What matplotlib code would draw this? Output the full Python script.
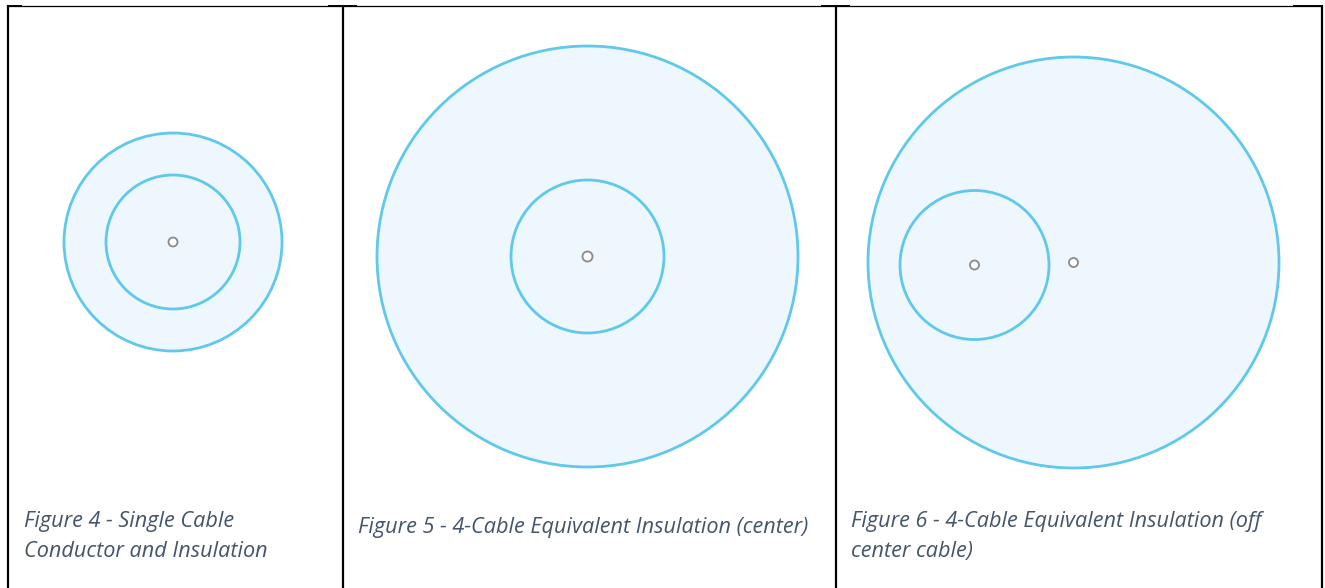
import matplotlib
matplotlib.use("Agg")
import matplotlib.pyplot as plt
from matplotlib.patches import Circle

W, H = 1325, 588

# Circles: (cx, cy, r) in pixel space of the figure
outer_circles = [(173, 242, 109), (587.5, 256.5, 210.5), (1073.5, 262.5, 205.5)]
inner_circles = [(173, 242, 67), (587.5, 256.5, 76.5), (974.5, 265, 74.5)]
dots = [(173, 242, 4.5), (587.5, 256.5, 5), (974.5, 265, 4.5), (1073.5, 262.5, 4.5)]

captions = [
    "Figure 4 - Single Cable\nConductor and Insulation",
    "Figure 5 - 4-Cable Equivalent Insulation (center)",
    "Figure 6 - 4-Cable Equivalent Insulation (off\ncenter cable)",
]
caption_pos = [(24, 536.5), (358, 527), (851, 536.5)]

col_x = [7.5, 342.5, 835.5, 1321.5]

EDGE = "#5FC8EB"
FILL = "#EEF7FD"
TEXT = "#44546A"

fig = plt.figure(figsize=(W / 100, H / 100), dpi=100)
ax = fig.add_axes([0, 0, 1, 1])
ax.set_xlim(0, W)
ax.set_ylim(H, 0)
ax.set_aspect("equal")
ax.axis("off")

for cx, cy, r in outer_circles:
    ax.add_patch(Circle((cx, cy), r, facecolor=FILL, edgecolor=EDGE, lw=2.0, zorder=2))
for cx, cy, r in inner_circles:
    ax.add_patch(Circle((cx, cy), r, facecolor="none", edgecolor=EDGE, lw=2.0, zorder=3))
for cx, cy, r in dots:
    ax.add_patch(Circle((cx, cy), r, facecolor="white", edgecolor="#8A8A8A", lw=1.3, zorder=4))

# table borders
ax.plot([col_x[0], col_x[-1]], [5.5, 5.5], color="black", lw=0.9, solid_capstyle="butt")
for x in col_x:
    ax.plot([x, x], [5, H], color="black", lw=1.6, solid_capstyle="butt")
for x0, x1 in [(7, 22), (328, 357), (821, 850), (1293, 1321)]:
    ax.plot([x0, x1], [6, 6], color="black", lw=1.4, solid_capstyle="butt")

for (x, y), txt in zip(caption_pos, captions):
    ax.text(x, y, txt, fontsize=15.6, family="Open Sans", style="italic", color=TEXT,
            ha="left", va="center", linespacing=1.52)

fig.savefig("out.png", dpi=100)
